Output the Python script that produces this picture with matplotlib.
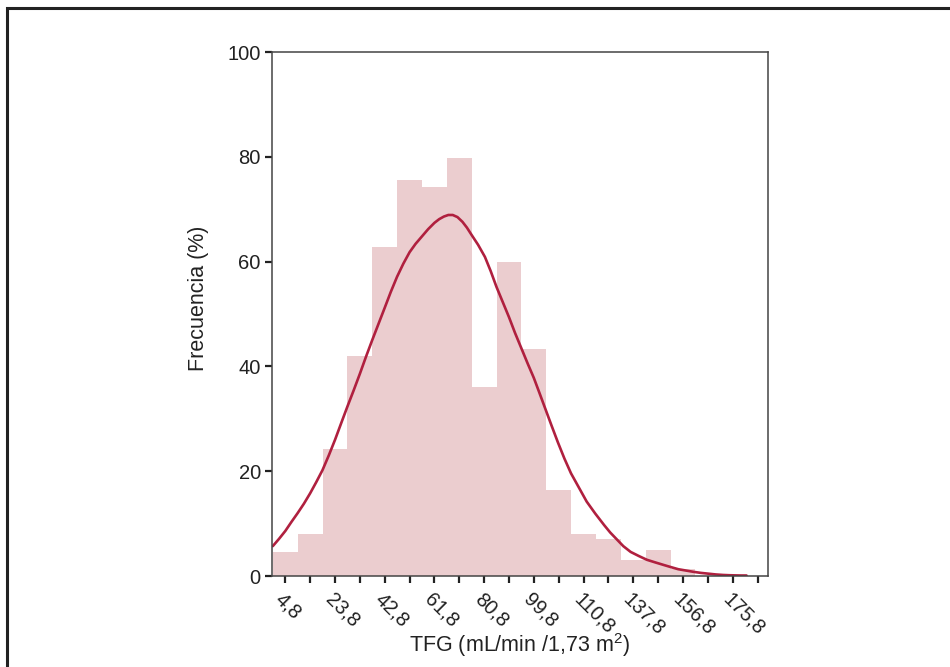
import matplotlib
matplotlib.use("Agg")
import matplotlib.pyplot as plt
from matplotlib.patches import Rectangle
import numpy as np

plt.rcParams['font.family'] = ['Liberation Sans', 'DejaVu Sans']
plt.rcParams['mathtext.fontset'] = 'custom'
plt.rcParams['mathtext.rm'] = 'Liberation Sans'
plt.rcParams['mathtext.it'] = 'Liberation Sans'

# bin centres (width 9.5) and frequencies
bin_width = 9.5
bin_centers = [4.8, 14.3, 23.8, 33.3, 42.8, 52.3, 61.8, 71.3, 80.8, 90.3,
               99.8, 109.3, 118.8, 128.3, 137.8, 147.3, 156.8]
freq = [4.6, 8.0, 24.2, 42.0, 62.8, 75.6, 74.2, 79.8, 36.1, 59.9,
        43.3, 16.4, 8.1, 7.0, 3.0, 5.0, 1.3]

# fitted curve, points
curve_x = [0.0, 2.4, 4.8, 7.1, 9.5, 11.9, 14.3, 16.6, 19.0, 21.4, 23.8, 26.1,
           28.5, 30.9, 33.3, 35.6, 38.0, 40.4, 42.8, 45.1, 47.5, 49.9, 52.3,
           54.6, 57.0, 59.4, 61.8, 63.6, 65.4, 67.1, 68.8, 70.6, 72.5, 74.2,
           76.0, 78.5, 81.1, 83.3, 85.5, 87.9, 90.3, 92.6, 95.0, 97.4, 99.8,
           101.9, 103.9, 106.5, 109.0, 111.5, 114.0, 117.0, 120.0, 123.3,
           126.7, 129.0, 131.5, 134.0, 136.8, 140.0, 143.0, 146.2, 149.5,
           152.2, 155.0, 157.9, 160.8, 163.6, 166.5, 169.3, 172.2, 174.6,
           177.0, 179.0, 181.1]
curve_y = [5.7, 7.1, 8.6, 10.3, 12.0, 13.8, 15.8, 17.9, 20.2, 23.0, 26.0, 29.1,
           32.3, 35.4, 38.6, 41.8, 45.0, 48.1, 51.2, 54.2, 57.1, 59.6, 61.8,
           63.4, 64.8, 66.2, 67.4, 68.1, 68.6, 68.9, 68.9, 68.5, 67.6, 66.5,
           65.1, 63.2, 60.9, 58.2, 55.2, 52.3, 49.4, 46.4, 43.5, 40.6, 37.8,
           35.0, 32.3, 28.8, 25.5, 22.4, 19.6, 16.9, 14.2, 11.9,
           9.7, 8.3, 7.0, 5.7, 4.6, 3.8, 3.1, 2.6, 2.1,
           1.7, 1.3, 1.05, 0.8, 0.6, 0.45, 0.3, 0.2, 0.15,
           0.12, 0.1, 0.1]

tick_pos = [4.8 + 9.5 * i for i in range(20)]
tick_labels = ['4,8', '23,8', '42,8', '61,8', '80,8', '99,8', '110,8',
               '137,8', '156,8', '175,8']

fig = plt.figure(figsize=(9.5, 6.67), dpi=100)
ax = fig.add_axes([0.2863, 0.1364, 0.5221, 0.7856])

ax.bar(bin_centers, freq, width=bin_width, color='#ebcdcf', edgecolor='none', zorder=1)
ax.plot(curve_x, curve_y, color='#b0203f', lw=1.9, zorder=2,
        solid_capstyle='round', solid_joinstyle='round')

ax.set_xlim(-0.3, 189.3)
ax.set_ylim(0, 100)

ax.set_yticks([0, 20, 40, 60, 80, 100])
ax.set_xticks(tick_pos)
lbls = []
for i in range(len(tick_pos)):
    lbls.append(tick_labels[i // 2] if i % 2 == 0 else '')
ax.set_xticklabels(lbls, rotation=-45, ha='left', va='top', rotation_mode='anchor')

ax.tick_params(axis='both', direction='out', length=5, width=1.6, color='#222222',
               labelsize=14.5, labelcolor='#222222')
ax.tick_params(axis='y', pad=3)
ax.tick_params(axis='x', pad=5)
for s in ax.spines.values():
    s.set_color('#444444')
    s.set_linewidth(1.1)

ax.set_ylabel('Frecuencia (%)', fontsize=15.5, color='#222222')
ax.yaxis.set_label_coords(-0.127, 0.53)
ax.set_xlabel('TFG (mL/min /1,73 m$^2$)', fontsize=15.5, color='#222222')
ax.xaxis.set_label_coords(0.5, -0.106)

# outer frame of the figure
fig.patches.append(Rectangle((0.0075, -0.2), 1.5, 1.188, transform=fig.transFigure,
                             fill=False, lw=2.2, ec='#222222'))

fig.savefig('out.png', dpi=100)
